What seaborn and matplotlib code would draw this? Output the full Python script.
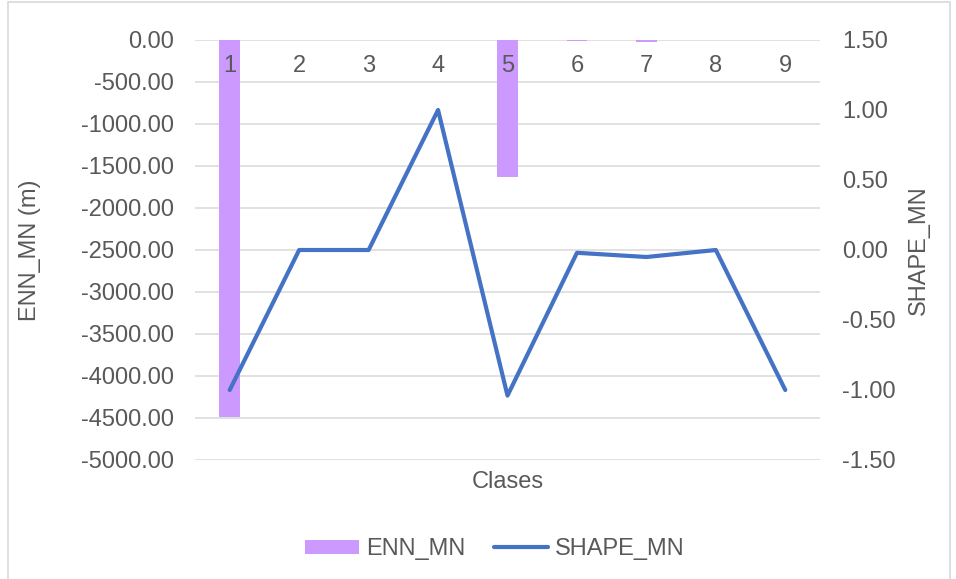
import numpy as np
import matplotlib
matplotlib.use("Agg")
import matplotlib.pyplot as plt
import seaborn as sns
from matplotlib.patches import Patch, Rectangle
from matplotlib.lines import Line2D
from matplotlib.ticker import MultipleLocator, StrMethodFormatter

classes = ["1", "2", "3", "4", "5", "6", "7", "8", "9"]
enn_mn = [-4490, 0, 0, 0, -1630, -12, -25, 0, 0]
shape_mn = [-1.0, 0.0, 0.0, 1.0, -1.04, -0.02, -0.05, 0.0, -1.0]

bar_color = "#CC99FF"
line_color = "#4472C4"
text_gray = "#595959"
grid_gray = "#D9D9D9"

sns.set_theme(style="white")
plt.rcParams["font.family"] = ["Liberation Sans", "DejaVu Sans"]
plt.rcParams["axes.unicode_minus"] = False

fig = plt.figure(figsize=(9.56, 5.79), dpi=100)
ax = fig.add_axes([195 / 956, 1 - 460 / 579, 625 / 956, 420 / 579])

# bars on the left axis
sns.barplot(x=classes, y=enn_mn, ax=ax, color=bar_color, saturation=1,
            width=0.3, errorbar=None, edgecolor="none", linewidth=0, zorder=2)
ax.set_xlim(-0.5, len(classes) - 0.5)
ax.set_ylim(-5000, 0)
ax.yaxis.set_major_locator(MultipleLocator(500))
ax.yaxis.set_major_formatter(StrMethodFormatter("{x:.2f}"))
ax.grid(axis="y", color=grid_gray, linewidth=1.1, zorder=0)
ax.set_axisbelow(True)
for s in ax.spines.values():
    s.set_visible(False)

ax.tick_params(axis="x", length=0, labelbottom=False, labeltop=False)
ax.tick_params(axis="y", length=0, pad=15, labelsize=17, colors=text_gray)
ax.set_xlabel("Clases", fontsize=17, color=text_gray, labelpad=8)
ax.set_ylabel("ENN_MN (m)", fontsize=17, color=text_gray)
ax.yaxis.set_label_coords((41 - 195) / 625, 0.5)

# line on the right axis
ax2 = ax.twinx()
sns.lineplot(x=np.arange(len(classes)), y=shape_mn, ax=ax2, color=line_color,
             linewidth=3, legend=False, solid_capstyle="round")
ax2.set_ylim(-1.5, 1.5)
ax2.yaxis.set_major_locator(MultipleLocator(0.5))
ax2.yaxis.set_major_formatter(StrMethodFormatter("{x:.2f}"))
ax2.tick_params(axis="y", length=0, pad=16, labelsize=17, colors=text_gray)
ax2.set_ylabel("SHAPE_MN", fontsize=17, color=text_gray)
ax2.yaxis.set_label_coords((908 - 195) / 625, 0.5)
for s in ax2.spines.values():
    s.set_visible(False)

# category labels sit just under the zero line, above the bars
ax2.xaxis.set_visible(True)
ax2.xaxis.tick_top()
ax2.tick_params(axis="x", length=0, pad=-27, labelsize=17, colors=text_gray,
                labeltop=True, labelbottom=False)

handles = [Patch(facecolor=bar_color, edgecolor="none"),
           Line2D([], [], color=line_color, linewidth=3, solid_capstyle="round")]
leg = fig.legend(handles, ["ENN_MN", "SHAPE_MN"], loc="center",
                 bbox_to_anchor=(495 / 956, 1 - 549 / 579), ncol=2,
                 frameon=False, fontsize=17, handlelength=2.3,
                 handleheight=0.55, handletextpad=0.3, columnspacing=1.2)
for t in leg.get_texts():
    t.set_color(text_gray)

# chart area border
fig.patches.append(Rectangle((8 / 956, -0.02), 942 / 956, 1.016, transform=fig.transFigure,
                             fill=False, edgecolor=grid_gray, linewidth=1.2))

fig.savefig("out.png", dpi=100)
